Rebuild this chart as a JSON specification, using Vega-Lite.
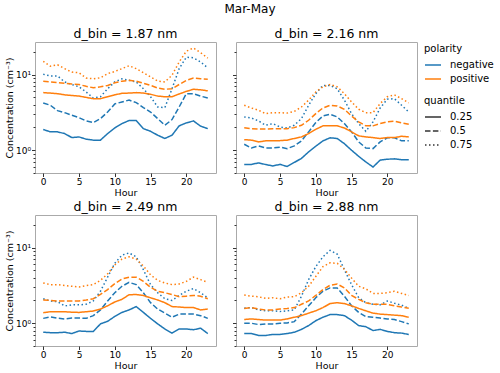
{
"$schema": "https://vega.github.io/schema/vega-lite/v6.json",
"padding": {"left": 3, "top": 3, "right": 3, "bottom": 2},
"title": {"text": "Mar-May", "fontSize": 12, "fontWeight": "normal", "anchor": "middle", "offset": 11, "color": "#000"},
"config": {
 "font": "DejaVu Sans",
 "view": {"stroke": "#aaaaaa", "strokeWidth": 1},
 "axis": {"grid": false, "domain": false, "labelFontSize": 9, "titleFontSize": 9.5, "titleFontWeight": "normal", "labelColor": "#000", "titleColor": "#000", "tickColor": "#333", "labelPadding": 1, "titlePadding": 1},
 "title": {"fontSize": 12.5, "fontWeight": "normal", "color": "#000", "offset": 2},
 "legend": {"symbolType": "stroke", "symbolSize": 256, "symbolStrokeWidth": 1.5, "labelFontSize": 10, "titleFontSize": 10, "titleFontWeight": "normal", "titleColor": "#000", "labelColor": "#000", "rowPadding": 0, "titlePadding": 2, "symbolStrokeColor": "#333", "labelOffset": 8, "padding": 2, "offset": 4}
},
"spacing": {"row": 2, "column": 14},
"columns": 2,
"resolve": {"scale": {"x": "shared", "y": "shared"}},
"data": {"values": [
{"d":"1.87","p":"negative","q":"0.25","h":0,"v":1.88},{"d":"1.87","p":"negative","q":"0.25","h":1,"v":1.75},{"d":"1.87","p":"negative","q":"0.25","h":2,"v":1.75},{"d":"1.87","p":"negative","q":"0.25","h":3,"v":1.66},{"d":"1.87","p":"negative","q":"0.25","h":4,"v":1.47},{"d":"1.87","p":"negative","q":"0.25","h":5,"v":1.5},{"d":"1.87","p":"negative","q":"0.25","h":6,"v":1.4},{"d":"1.87","p":"negative","q":"0.25","h":7,"v":1.36},{"d":"1.87","p":"negative","q":"0.25","h":8,"v":1.36},{"d":"1.87","p":"negative","q":"0.25","h":9,"v":1.66},{"d":"1.87","p":"negative","q":"0.25","h":10,"v":1.97},{"d":"1.87","p":"negative","q":"0.25","h":11,"v":2.25},{"d":"1.87","p":"negative","q":"0.25","h":12,"v":2.47},{"d":"1.87","p":"negative","q":"0.25","h":13,"v":2.47},{"d":"1.87","p":"negative","q":"0.25","h":14,"v":1.93},{"d":"1.87","p":"negative","q":"0.25","h":15,"v":1.78},{"d":"1.87","p":"negative","q":"0.25","h":16,"v":1.58},{"d":"1.87","p":"negative","q":"0.25","h":17,"v":1.43},{"d":"1.87","p":"negative","q":"0.25","h":18,"v":1.58},{"d":"1.87","p":"negative","q":"0.25","h":19,"v":2.1},{"d":"1.87","p":"negative","q":"0.25","h":20,"v":2.3},{"d":"1.87","p":"negative","q":"0.25","h":21,"v":2.44},{"d":"1.87","p":"negative","q":"0.25","h":22,"v":2.08},{"d":"1.87","p":"negative","q":"0.25","h":23,"v":1.93},
{"d":"1.87","p":"negative","q":"0.5","h":0,"v":4.22},{"d":"1.87","p":"negative","q":"0.5","h":1,"v":3.93},{"d":"1.87","p":"negative","q":"0.5","h":2,"v":3.34},{"d":"1.87","p":"negative","q":"0.5","h":3,"v":3.14},{"d":"1.87","p":"negative","q":"0.5","h":4,"v":2.9},{"d":"1.87","p":"negative","q":"0.5","h":5,"v":2.7},{"d":"1.87","p":"negative","q":"0.5","h":6,"v":2.44},{"d":"1.87","p":"negative","q":"0.5","h":7,"v":2.32},{"d":"1.87","p":"negative","q":"0.5","h":8,"v":2.62},{"d":"1.87","p":"negative","q":"0.5","h":9,"v":3.2},{"d":"1.87","p":"negative","q":"0.5","h":10,"v":4.1},{"d":"1.87","p":"negative","q":"0.5","h":11,"v":4.35},{"d":"1.87","p":"negative","q":"0.5","h":12,"v":4.6},{"d":"1.87","p":"negative","q":"0.5","h":13,"v":4.27},{"d":"1.87","p":"negative","q":"0.5","h":14,"v":3.66},{"d":"1.87","p":"negative","q":"0.5","h":15,"v":3.2},{"d":"1.87","p":"negative","q":"0.5","h":16,"v":2.62},{"d":"1.87","p":"negative","q":"0.5","h":17,"v":2.14},{"d":"1.87","p":"negative","q":"0.5","h":18,"v":2.54},{"d":"1.87","p":"negative","q":"0.5","h":19,"v":3.73},{"d":"1.87","p":"negative","q":"0.5","h":20,"v":5.6},{"d":"1.87","p":"negative","q":"0.5","h":21,"v":5.6},{"d":"1.87","p":"negative","q":"0.5","h":22,"v":5.2},{"d":"1.87","p":"negative","q":"0.5","h":23,"v":4.9},
{"d":"1.87","p":"negative","q":"0.75","h":0,"v":10.1},{"d":"1.87","p":"negative","q":"0.75","h":1,"v":9.6},{"d":"1.87","p":"negative","q":"0.75","h":2,"v":9.6},{"d":"1.87","p":"negative","q":"0.75","h":3,"v":8.0},{"d":"1.87","p":"negative","q":"0.75","h":4,"v":7.4},{"d":"1.87","p":"negative","q":"0.75","h":5,"v":6.9},{"d":"1.87","p":"negative","q":"0.75","h":6,"v":5.9},{"d":"1.87","p":"negative","q":"0.75","h":7,"v":4.9},{"d":"1.87","p":"negative","q":"0.75","h":8,"v":5.1},{"d":"1.87","p":"negative","q":"0.75","h":9,"v":6.5},{"d":"1.87","p":"negative","q":"0.75","h":10,"v":8.0},{"d":"1.87","p":"negative","q":"0.75","h":11,"v":8.8},{"d":"1.87","p":"negative","q":"0.75","h":12,"v":8.4},{"d":"1.87","p":"negative","q":"0.75","h":13,"v":8.0},{"d":"1.87","p":"negative","q":"0.75","h":14,"v":6.5},{"d":"1.87","p":"negative","q":"0.75","h":15,"v":5.1},{"d":"1.87","p":"negative","q":"0.75","h":16,"v":3.73},{"d":"1.87","p":"negative","q":"0.75","h":17,"v":3.66},{"d":"1.87","p":"negative","q":"0.75","h":18,"v":6.5},{"d":"1.87","p":"negative","q":"0.75","h":19,"v":12},{"d":"1.87","p":"negative","q":"0.75","h":20,"v":17},{"d":"1.87","p":"negative","q":"0.75","h":21,"v":16.7},{"d":"1.87","p":"negative","q":"0.75","h":22,"v":14.7},{"d":"1.87","p":"negative","q":"0.75","h":23,"v":12.3},
{"d":"1.87","p":"positive","q":"0.25","h":0,"v":5.78},{"d":"1.87","p":"positive","q":"0.25","h":1,"v":5.7},{"d":"1.87","p":"positive","q":"0.25","h":2,"v":5.6},{"d":"1.87","p":"positive","q":"0.25","h":3,"v":5.4},{"d":"1.87","p":"positive","q":"0.25","h":4,"v":5.3},{"d":"1.87","p":"positive","q":"0.25","h":5,"v":5.2},{"d":"1.87","p":"positive","q":"0.25","h":6,"v":5.0},{"d":"1.87","p":"positive","q":"0.25","h":7,"v":4.8},{"d":"1.87","p":"positive","q":"0.25","h":8,"v":4.8},{"d":"1.87","p":"positive","q":"0.25","h":9,"v":5.1},{"d":"1.87","p":"positive","q":"0.25","h":10,"v":5.4},{"d":"1.87","p":"positive","q":"0.25","h":11,"v":5.65},{"d":"1.87","p":"positive","q":"0.25","h":12,"v":5.7},{"d":"1.87","p":"positive","q":"0.25","h":13,"v":5.78},{"d":"1.87","p":"positive","q":"0.25","h":14,"v":5.7},{"d":"1.87","p":"positive","q":"0.25","h":15,"v":5.5},{"d":"1.87","p":"positive","q":"0.25","h":16,"v":5.2},{"d":"1.87","p":"positive","q":"0.25","h":17,"v":5.1},{"d":"1.87","p":"positive","q":"0.25","h":18,"v":5.1},{"d":"1.87","p":"positive","q":"0.25","h":19,"v":5.55},{"d":"1.87","p":"positive","q":"0.25","h":20,"v":6.0},{"d":"1.87","p":"positive","q":"0.25","h":21,"v":6.4},{"d":"1.87","p":"positive","q":"0.25","h":22,"v":6.3},{"d":"1.87","p":"positive","q":"0.25","h":23,"v":6.1},
{"d":"1.87","p":"positive","q":"0.5","h":0,"v":8.2},{"d":"1.87","p":"positive","q":"0.5","h":1,"v":8.0},{"d":"1.87","p":"positive","q":"0.5","h":2,"v":7.85},{"d":"1.87","p":"positive","q":"0.5","h":3,"v":7.7},{"d":"1.87","p":"positive","q":"0.5","h":4,"v":7.5},{"d":"1.87","p":"positive","q":"0.5","h":5,"v":7.4},{"d":"1.87","p":"positive","q":"0.5","h":6,"v":7.0},{"d":"1.87","p":"positive","q":"0.5","h":7,"v":6.7},{"d":"1.87","p":"positive","q":"0.5","h":8,"v":6.9},{"d":"1.87","p":"positive","q":"0.5","h":9,"v":7.2},{"d":"1.87","p":"positive","q":"0.5","h":10,"v":7.8},{"d":"1.87","p":"positive","q":"0.5","h":11,"v":8.2},{"d":"1.87","p":"positive","q":"0.5","h":12,"v":8.4},{"d":"1.87","p":"positive","q":"0.5","h":13,"v":8.2},{"d":"1.87","p":"positive","q":"0.5","h":14,"v":7.7},{"d":"1.87","p":"positive","q":"0.5","h":15,"v":7.2},{"d":"1.87","p":"positive","q":"0.5","h":16,"v":6.65},{"d":"1.87","p":"positive","q":"0.5","h":17,"v":6.4},{"d":"1.87","p":"positive","q":"0.5","h":18,"v":6.5},{"d":"1.87","p":"positive","q":"0.5","h":19,"v":7.4},{"d":"1.87","p":"positive","q":"0.5","h":20,"v":8.4},{"d":"1.87","p":"positive","q":"0.5","h":21,"v":9.0},{"d":"1.87","p":"positive","q":"0.5","h":22,"v":8.8},{"d":"1.87","p":"positive","q":"0.5","h":23,"v":8.7},
{"d":"1.87","p":"positive","q":"0.75","h":0,"v":15},{"d":"1.87","p":"positive","q":"0.75","h":1,"v":12.9},{"d":"1.87","p":"positive","q":"0.75","h":2,"v":13.5},{"d":"1.87","p":"positive","q":"0.75","h":3,"v":12},{"d":"1.87","p":"positive","q":"0.75","h":4,"v":10.8},{"d":"1.87","p":"positive","q":"0.75","h":5,"v":10.6},{"d":"1.87","p":"positive","q":"0.75","h":6,"v":9},{"d":"1.87","p":"positive","q":"0.75","h":7,"v":8.8},{"d":"1.87","p":"positive","q":"0.75","h":8,"v":9.1},{"d":"1.87","p":"positive","q":"0.75","h":9,"v":10.3},{"d":"1.87","p":"positive","q":"0.75","h":10,"v":11},{"d":"1.87","p":"positive","q":"0.75","h":11,"v":12},{"d":"1.87","p":"positive","q":"0.75","h":12,"v":13.1},{"d":"1.87","p":"positive","q":"0.75","h":13,"v":12},{"d":"1.87","p":"positive","q":"0.75","h":14,"v":10.6},{"d":"1.87","p":"positive","q":"0.75","h":15,"v":9.3},{"d":"1.87","p":"positive","q":"0.75","h":16,"v":8.2},{"d":"1.87","p":"positive","q":"0.75","h":17,"v":8.0},{"d":"1.87","p":"positive","q":"0.75","h":18,"v":9.8},{"d":"1.87","p":"positive","q":"0.75","h":19,"v":14.7},{"d":"1.87","p":"positive","q":"0.75","h":20,"v":20.4},{"d":"1.87","p":"positive","q":"0.75","h":21,"v":22.5},{"d":"1.87","p":"positive","q":"0.75","h":22,"v":19.5},{"d":"1.87","p":"positive","q":"0.75","h":23,"v":16.5},
{"d":"2.16","p":"negative","q":"0.25","h":0,"v":0.647},{"d":"2.16","p":"negative","q":"0.25","h":1,"v":0.65},{"d":"2.16","p":"negative","q":"0.25","h":2,"v":0.68},{"d":"2.16","p":"negative","q":"0.25","h":3,"v":0.647},{"d":"2.16","p":"negative","q":"0.25","h":4,"v":0.62},{"d":"2.16","p":"negative","q":"0.25","h":5,"v":0.65},{"d":"2.16","p":"negative","q":"0.25","h":6,"v":0.61},{"d":"2.16","p":"negative","q":"0.25","h":7,"v":0.69},{"d":"2.16","p":"negative","q":"0.25","h":8,"v":0.78},{"d":"2.16","p":"negative","q":"0.25","h":9,"v":0.95},{"d":"2.16","p":"negative","q":"0.25","h":10,"v":1.13},{"d":"2.16","p":"negative","q":"0.25","h":11,"v":1.33},{"d":"2.16","p":"negative","q":"0.25","h":12,"v":1.46},{"d":"2.16","p":"negative","q":"0.25","h":13,"v":1.43},{"d":"2.16","p":"negative","q":"0.25","h":14,"v":1.22},{"d":"2.16","p":"negative","q":"0.25","h":15,"v":1.0},{"d":"2.16","p":"negative","q":"0.25","h":16,"v":0.83},{"d":"2.16","p":"negative","q":"0.25","h":17,"v":0.7},{"d":"2.16","p":"negative","q":"0.25","h":18,"v":0.6},{"d":"2.16","p":"negative","q":"0.25","h":19,"v":0.74},{"d":"2.16","p":"negative","q":"0.25","h":20,"v":0.76},{"d":"2.16","p":"negative","q":"0.25","h":21,"v":0.77},{"d":"2.16","p":"negative","q":"0.25","h":22,"v":0.75},{"d":"2.16","p":"negative","q":"0.25","h":23,"v":0.75},
{"d":"2.16","p":"negative","q":"0.5","h":0,"v":1.2},{"d":"2.16","p":"negative","q":"0.5","h":1,"v":1.07},{"d":"2.16","p":"negative","q":"0.5","h":2,"v":1.14},{"d":"2.16","p":"negative","q":"0.5","h":3,"v":1.07},{"d":"2.16","p":"negative","q":"0.5","h":4,"v":1.07},{"d":"2.16","p":"negative","q":"0.5","h":5,"v":1.1},{"d":"2.16","p":"negative","q":"0.5","h":6,"v":1.05},{"d":"2.16","p":"negative","q":"0.5","h":7,"v":1.14},{"d":"2.16","p":"negative","q":"0.5","h":8,"v":1.33},{"d":"2.16","p":"negative","q":"0.5","h":9,"v":1.75},{"d":"2.16","p":"negative","q":"0.5","h":10,"v":2.32},{"d":"2.16","p":"negative","q":"0.5","h":11,"v":2.84},{"d":"2.16","p":"negative","q":"0.5","h":12,"v":2.99},{"d":"2.16","p":"negative","q":"0.5","h":13,"v":2.76},{"d":"2.16","p":"negative","q":"0.5","h":14,"v":2.25},{"d":"2.16","p":"negative","q":"0.5","h":15,"v":1.75},{"d":"2.16","p":"negative","q":"0.5","h":16,"v":1.29},{"d":"2.16","p":"negative","q":"0.5","h":17,"v":1.07},{"d":"2.16","p":"negative","q":"0.5","h":18,"v":1.05},{"d":"2.16","p":"negative","q":"0.5","h":19,"v":1.29},{"d":"2.16","p":"negative","q":"0.5","h":20,"v":1.46},{"d":"2.16","p":"negative","q":"0.5","h":21,"v":1.46},{"d":"2.16","p":"negative","q":"0.5","h":22,"v":1.33},{"d":"2.16","p":"negative","q":"0.5","h":23,"v":1.33},
{"d":"2.16","p":"negative","q":"0.75","h":0,"v":2.76},{"d":"2.16","p":"negative","q":"0.75","h":1,"v":2.67},{"d":"2.16","p":"negative","q":"0.75","h":2,"v":2.44},{"d":"2.16","p":"negative","q":"0.75","h":3,"v":2.14},{"d":"2.16","p":"negative","q":"0.75","h":4,"v":2.25},{"d":"2.16","p":"negative","q":"0.75","h":5,"v":2.03},{"d":"2.16","p":"negative","q":"0.75","h":6,"v":1.97},{"d":"2.16","p":"negative","q":"0.75","h":7,"v":2.14},{"d":"2.16","p":"negative","q":"0.75","h":8,"v":2.62},{"d":"2.16","p":"negative","q":"0.75","h":9,"v":3.93},{"d":"2.16","p":"negative","q":"0.75","h":10,"v":5.6},{"d":"2.16","p":"negative","q":"0.75","h":11,"v":7.2},{"d":"2.16","p":"negative","q":"0.75","h":12,"v":7.2},{"d":"2.16","p":"negative","q":"0.75","h":13,"v":6.5},{"d":"2.16","p":"negative","q":"0.75","h":14,"v":4.6},{"d":"2.16","p":"negative","q":"0.75","h":15,"v":3.05},{"d":"2.16","p":"negative","q":"0.75","h":16,"v":2.25},{"d":"2.16","p":"negative","q":"0.75","h":17,"v":1.78},{"d":"2.16","p":"negative","q":"0.75","h":18,"v":2.37},{"d":"2.16","p":"negative","q":"0.75","h":19,"v":3.62},{"d":"2.16","p":"negative","q":"0.75","h":20,"v":4.73},{"d":"2.16","p":"negative","q":"0.75","h":21,"v":4.8},{"d":"2.16","p":"negative","q":"0.75","h":22,"v":3.93},{"d":"2.16","p":"negative","q":"0.75","h":23,"v":3.2},
{"d":"2.16","p":"positive","q":"0.25","h":0,"v":1.38},{"d":"2.16","p":"positive","q":"0.25","h":1,"v":1.36},{"d":"2.16","p":"positive","q":"0.25","h":2,"v":1.29},{"d":"2.16","p":"positive","q":"0.25","h":3,"v":1.33},{"d":"2.16","p":"positive","q":"0.25","h":4,"v":1.33},{"d":"2.16","p":"positive","q":"0.25","h":5,"v":1.34},{"d":"2.16","p":"positive","q":"0.25","h":6,"v":1.36},{"d":"2.16","p":"positive","q":"0.25","h":7,"v":1.43},{"d":"2.16","p":"positive","q":"0.25","h":8,"v":1.5},{"d":"2.16","p":"positive","q":"0.25","h":9,"v":1.66},{"d":"2.16","p":"positive","q":"0.25","h":10,"v":1.89},{"d":"2.16","p":"positive","q":"0.25","h":11,"v":2.1},{"d":"2.16","p":"positive","q":"0.25","h":12,"v":2.1},{"d":"2.16","p":"positive","q":"0.25","h":13,"v":2.1},{"d":"2.16","p":"positive","q":"0.25","h":14,"v":1.97},{"d":"2.16","p":"positive","q":"0.25","h":15,"v":1.75},{"d":"2.16","p":"positive","q":"0.25","h":16,"v":1.55},{"d":"2.16","p":"positive","q":"0.25","h":17,"v":1.5},{"d":"2.16","p":"positive","q":"0.25","h":18,"v":1.47},{"d":"2.16","p":"positive","q":"0.25","h":19,"v":1.43},{"d":"2.16","p":"positive","q":"0.25","h":20,"v":1.47},{"d":"2.16","p":"positive","q":"0.25","h":21,"v":1.47},{"d":"2.16","p":"positive","q":"0.25","h":22,"v":1.53},{"d":"2.16","p":"positive","q":"0.25","h":23,"v":1.5},
{"d":"2.16","p":"positive","q":"0.5","h":0,"v":1.99},{"d":"2.16","p":"positive","q":"0.5","h":1,"v":1.93},{"d":"2.16","p":"positive","q":"0.5","h":2,"v":1.91},{"d":"2.16","p":"positive","q":"0.5","h":3,"v":1.91},{"d":"2.16","p":"positive","q":"0.5","h":4,"v":1.93},{"d":"2.16","p":"positive","q":"0.5","h":5,"v":1.93},{"d":"2.16","p":"positive","q":"0.5","h":6,"v":1.93},{"d":"2.16","p":"positive","q":"0.5","h":7,"v":1.99},{"d":"2.16","p":"positive","q":"0.5","h":8,"v":2.14},{"d":"2.16","p":"positive","q":"0.5","h":9,"v":2.49},{"d":"2.16","p":"positive","q":"0.5","h":10,"v":3.05},{"d":"2.16","p":"positive","q":"0.5","h":11,"v":3.62},{"d":"2.16","p":"positive","q":"0.5","h":12,"v":3.93},{"d":"2.16","p":"positive","q":"0.5","h":13,"v":3.85},{"d":"2.16","p":"positive","q":"0.5","h":14,"v":3.48},{"d":"2.16","p":"positive","q":"0.5","h":15,"v":2.84},{"d":"2.16","p":"positive","q":"0.5","h":16,"v":2.37},{"d":"2.16","p":"positive","q":"0.5","h":17,"v":2.1},{"d":"2.16","p":"positive","q":"0.5","h":18,"v":2.1},{"d":"2.16","p":"positive","q":"0.5","h":19,"v":2.25},{"d":"2.16","p":"positive","q":"0.5","h":20,"v":2.37},{"d":"2.16","p":"positive","q":"0.5","h":21,"v":2.42},{"d":"2.16","p":"positive","q":"0.5","h":22,"v":2.3},{"d":"2.16","p":"positive","q":"0.5","h":23,"v":2.2},
{"d":"2.16","p":"positive","q":"0.75","h":0,"v":3.93},{"d":"2.16","p":"positive","q":"0.75","h":1,"v":3.62},{"d":"2.16","p":"positive","q":"0.75","h":2,"v":3.38},{"d":"2.16","p":"positive","q":"0.75","h":3,"v":3.05},{"d":"2.16","p":"positive","q":"0.75","h":4,"v":3.14},{"d":"2.16","p":"positive","q":"0.75","h":5,"v":3.14},{"d":"2.16","p":"positive","q":"0.75","h":6,"v":3.1},{"d":"2.16","p":"positive","q":"0.75","h":7,"v":3.27},{"d":"2.16","p":"positive","q":"0.75","h":8,"v":3.73},{"d":"2.16","p":"positive","q":"0.75","h":9,"v":4.6},{"d":"2.16","p":"positive","q":"0.75","h":10,"v":5.9},{"d":"2.16","p":"positive","q":"0.75","h":11,"v":6.9},{"d":"2.16","p":"positive","q":"0.75","h":12,"v":7.4},{"d":"2.16","p":"positive","q":"0.75","h":13,"v":6.9},{"d":"2.16","p":"positive","q":"0.75","h":14,"v":5.6},{"d":"2.16","p":"positive","q":"0.75","h":15,"v":4.35},{"d":"2.16","p":"positive","q":"0.75","h":16,"v":3.48},{"d":"2.16","p":"positive","q":"0.75","h":17,"v":3.14},{"d":"2.16","p":"positive","q":"0.75","h":18,"v":3.14},{"d":"2.16","p":"positive","q":"0.75","h":19,"v":4.14},{"d":"2.16","p":"positive","q":"0.75","h":20,"v":5.1},{"d":"2.16","p":"positive","q":"0.75","h":21,"v":5.4},{"d":"2.16","p":"positive","q":"0.75","h":22,"v":4.8},{"d":"2.16","p":"positive","q":"0.75","h":23,"v":4.22},
{"d":"2.49","p":"negative","q":"0.25","h":0,"v":0.76},{"d":"2.49","p":"negative","q":"0.25","h":1,"v":0.75},{"d":"2.49","p":"negative","q":"0.25","h":2,"v":0.75},{"d":"2.49","p":"negative","q":"0.25","h":3,"v":0.76},{"d":"2.49","p":"negative","q":"0.25","h":4,"v":0.73},{"d":"2.49","p":"negative","q":"0.25","h":5,"v":0.79},{"d":"2.49","p":"negative","q":"0.25","h":6,"v":0.78},{"d":"2.49","p":"negative","q":"0.25","h":7,"v":0.78},{"d":"2.49","p":"negative","q":"0.25","h":8,"v":0.98},{"d":"2.49","p":"negative","q":"0.25","h":9,"v":1.06},{"d":"2.49","p":"negative","q":"0.25","h":10,"v":1.23},{"d":"2.49","p":"negative","q":"0.25","h":11,"v":1.39},{"d":"2.49","p":"negative","q":"0.25","h":12,"v":1.5},{"d":"2.49","p":"negative","q":"0.25","h":13,"v":1.66},{"d":"2.49","p":"negative","q":"0.25","h":14,"v":1.39},{"d":"2.49","p":"negative","q":"0.25","h":15,"v":1.16},{"d":"2.49","p":"negative","q":"0.25","h":16,"v":0.98},{"d":"2.49","p":"negative","q":"0.25","h":17,"v":0.84},{"d":"2.49","p":"negative","q":"0.25","h":18,"v":0.74},{"d":"2.49","p":"negative","q":"0.25","h":19,"v":0.84},{"d":"2.49","p":"negative","q":"0.25","h":20,"v":0.84},{"d":"2.49","p":"negative","q":"0.25","h":21,"v":0.82},{"d":"2.49","p":"negative","q":"0.25","h":22,"v":0.86},{"d":"2.49","p":"negative","q":"0.25","h":23,"v":0.73},
{"d":"2.49","p":"negative","q":"0.5","h":0,"v":1.16},{"d":"2.49","p":"negative","q":"0.5","h":1,"v":1.21},{"d":"2.49","p":"negative","q":"0.5","h":2,"v":1.17},{"d":"2.49","p":"negative","q":"0.5","h":3,"v":1.14},{"d":"2.49","p":"negative","q":"0.5","h":4,"v":1.17},{"d":"2.49","p":"negative","q":"0.5","h":5,"v":1.17},{"d":"2.49","p":"negative","q":"0.5","h":6,"v":1.16},{"d":"2.49","p":"negative","q":"0.5","h":7,"v":1.26},{"d":"2.49","p":"negative","q":"0.5","h":8,"v":1.5},{"d":"2.49","p":"negative","q":"0.5","h":9,"v":1.97},{"d":"2.49","p":"negative","q":"0.5","h":10,"v":2.53},{"d":"2.49","p":"negative","q":"0.5","h":11,"v":3.08},{"d":"2.49","p":"negative","q":"0.5","h":12,"v":3.47},{"d":"2.49","p":"negative","q":"0.5","h":13,"v":3.24},{"d":"2.49","p":"negative","q":"0.5","h":14,"v":2.53},{"d":"2.49","p":"negative","q":"0.5","h":15,"v":1.87},{"d":"2.49","p":"negative","q":"0.5","h":16,"v":1.54},{"d":"2.49","p":"negative","q":"0.5","h":17,"v":1.36},{"d":"2.49","p":"negative","q":"0.5","h":18,"v":1.2},{"d":"2.49","p":"negative","q":"0.5","h":19,"v":1.32},{"d":"2.49","p":"negative","q":"0.5","h":20,"v":1.32},{"d":"2.49","p":"negative","q":"0.5","h":21,"v":1.32},{"d":"2.49","p":"negative","q":"0.5","h":22,"v":1.26},{"d":"2.49","p":"negative","q":"0.5","h":23,"v":1.16},
{"d":"2.49","p":"negative","q":"0.75","h":0,"v":2.11},{"d":"2.49","p":"negative","q":"0.75","h":1,"v":1.97},{"d":"2.49","p":"negative","q":"0.75","h":2,"v":1.93},{"d":"2.49","p":"negative","q":"0.75","h":3,"v":1.69},{"d":"2.49","p":"negative","q":"0.75","h":4,"v":1.75},{"d":"2.49","p":"negative","q":"0.75","h":5,"v":1.75},{"d":"2.49","p":"negative","q":"0.75","h":6,"v":1.78},{"d":"2.49","p":"negative","q":"0.75","h":7,"v":1.97},{"d":"2.49","p":"negative","q":"0.75","h":8,"v":2.65},{"d":"2.49","p":"negative","q":"0.75","h":9,"v":4.07},{"d":"2.49","p":"negative","q":"0.75","h":10,"v":6.2},{"d":"2.49","p":"negative","q":"0.75","h":11,"v":7.95},{"d":"2.49","p":"negative","q":"0.75","h":12,"v":8.5},{"d":"2.49","p":"negative","q":"0.75","h":13,"v":7.55},{"d":"2.49","p":"negative","q":"0.75","h":14,"v":5.1},{"d":"2.49","p":"negative","q":"0.75","h":15,"v":3.24},{"d":"2.49","p":"negative","q":"0.75","h":16,"v":2.53},{"d":"2.49","p":"negative","q":"0.75","h":17,"v":2.11},{"d":"2.49","p":"negative","q":"0.75","h":18,"v":2.0},{"d":"2.49","p":"negative","q":"0.75","h":19,"v":2.33},{"d":"2.49","p":"negative","q":"0.75","h":20,"v":2.65},{"d":"2.49","p":"negative","q":"0.75","h":21,"v":2.88},{"d":"2.49","p":"negative","q":"0.75","h":22,"v":2.53},{"d":"2.49","p":"negative","q":"0.75","h":23,"v":2.17},
{"d":"2.49","p":"positive","q":"0.25","h":0,"v":1.38},{"d":"2.49","p":"positive","q":"0.25","h":1,"v":1.42},{"d":"2.49","p":"positive","q":"0.25","h":2,"v":1.42},{"d":"2.49","p":"positive","q":"0.25","h":3,"v":1.42},{"d":"2.49","p":"positive","q":"0.25","h":4,"v":1.4},{"d":"2.49","p":"positive","q":"0.25","h":5,"v":1.39},{"d":"2.49","p":"positive","q":"0.25","h":6,"v":1.42},{"d":"2.49","p":"positive","q":"0.25","h":7,"v":1.45},{"d":"2.49","p":"positive","q":"0.25","h":8,"v":1.54},{"d":"2.49","p":"positive","q":"0.25","h":9,"v":1.7},{"d":"2.49","p":"positive","q":"0.25","h":10,"v":1.91},{"d":"2.49","p":"positive","q":"0.25","h":11,"v":2.07},{"d":"2.49","p":"positive","q":"0.25","h":12,"v":2.38},{"d":"2.49","p":"positive","q":"0.25","h":13,"v":2.4},{"d":"2.49","p":"positive","q":"0.25","h":14,"v":2.33},{"d":"2.49","p":"positive","q":"0.25","h":15,"v":2.17},{"d":"2.49","p":"positive","q":"0.25","h":16,"v":2.03},{"d":"2.49","p":"positive","q":"0.25","h":17,"v":1.87},{"d":"2.49","p":"positive","q":"0.25","h":18,"v":1.66},{"d":"2.49","p":"positive","q":"0.25","h":19,"v":1.64},{"d":"2.49","p":"positive","q":"0.25","h":20,"v":1.61},{"d":"2.49","p":"positive","q":"0.25","h":21,"v":1.61},{"d":"2.49","p":"positive","q":"0.25","h":22,"v":1.5},{"d":"2.49","p":"positive","q":"0.25","h":23,"v":1.54},
{"d":"2.49","p":"positive","q":"0.5","h":0,"v":2.03},{"d":"2.49","p":"positive","q":"0.5","h":1,"v":2.0},{"d":"2.49","p":"positive","q":"0.5","h":2,"v":1.97},{"d":"2.49","p":"positive","q":"0.5","h":3,"v":1.97},{"d":"2.49","p":"positive","q":"0.5","h":4,"v":1.97},{"d":"2.49","p":"positive","q":"0.5","h":5,"v":1.97},{"d":"2.49","p":"positive","q":"0.5","h":6,"v":2.03},{"d":"2.49","p":"positive","q":"0.5","h":7,"v":2.11},{"d":"2.49","p":"positive","q":"0.5","h":8,"v":2.4},{"d":"2.49","p":"positive","q":"0.5","h":9,"v":2.79},{"d":"2.49","p":"positive","q":"0.5","h":10,"v":3.34},{"d":"2.49","p":"positive","q":"0.5","h":11,"v":3.84},{"d":"2.49","p":"positive","q":"0.5","h":12,"v":4.07},{"d":"2.49","p":"positive","q":"0.5","h":13,"v":4.07},{"d":"2.49","p":"positive","q":"0.5","h":14,"v":3.58},{"d":"2.49","p":"positive","q":"0.5","h":15,"v":2.99},{"d":"2.49","p":"positive","q":"0.5","h":16,"v":2.65},{"d":"2.49","p":"positive","q":"0.5","h":17,"v":2.53},{"d":"2.49","p":"positive","q":"0.5","h":18,"v":2.4},{"d":"2.49","p":"positive","q":"0.5","h":19,"v":2.24},{"d":"2.49","p":"positive","q":"0.5","h":20,"v":2.28},{"d":"2.49","p":"positive","q":"0.5","h":21,"v":2.33},{"d":"2.49","p":"positive","q":"0.5","h":22,"v":2.28},{"d":"2.49","p":"positive","q":"0.5","h":23,"v":2.11},
{"d":"2.49","p":"positive","q":"0.75","h":0,"v":3.41},{"d":"2.49","p":"positive","q":"0.75","h":1,"v":3.24},{"d":"2.49","p":"positive","q":"0.75","h":2,"v":3.24},{"d":"2.49","p":"positive","q":"0.75","h":3,"v":3.15},{"d":"2.49","p":"positive","q":"0.75","h":4,"v":3.08},{"d":"2.49","p":"positive","q":"0.75","h":5,"v":3.02},{"d":"2.49","p":"positive","q":"0.75","h":6,"v":3.15},{"d":"2.49","p":"positive","q":"0.75","h":7,"v":3.24},{"d":"2.49","p":"positive","q":"0.75","h":8,"v":3.69},{"d":"2.49","p":"positive","q":"0.75","h":9,"v":4.5},{"d":"2.49","p":"positive","q":"0.75","h":10,"v":5.9},{"d":"2.49","p":"positive","q":"0.75","h":11,"v":7.05},{"d":"2.49","p":"positive","q":"0.75","h":12,"v":7.55},{"d":"2.49","p":"positive","q":"0.75","h":13,"v":7.05},{"d":"2.49","p":"positive","q":"0.75","h":14,"v":5.7},{"d":"2.49","p":"positive","q":"0.75","h":15,"v":4.37},{"d":"2.49","p":"positive","q":"0.75","h":16,"v":3.69},{"d":"2.49","p":"positive","q":"0.75","h":17,"v":3.41},{"d":"2.49","p":"positive","q":"0.75","h":18,"v":3.24},{"d":"2.49","p":"positive","q":"0.75","h":19,"v":3.3},{"d":"2.49","p":"positive","q":"0.75","h":20,"v":3.58},{"d":"2.49","p":"positive","q":"0.75","h":21,"v":4.07},{"d":"2.49","p":"positive","q":"0.75","h":22,"v":3.77},{"d":"2.49","p":"positive","q":"0.75","h":23,"v":3.47},
{"d":"2.88","p":"negative","q":"0.25","h":0,"v":0.73},{"d":"2.88","p":"negative","q":"0.25","h":1,"v":0.73},{"d":"2.88","p":"negative","q":"0.25","h":2,"v":0.69},{"d":"2.88","p":"negative","q":"0.25","h":3,"v":0.69},{"d":"2.88","p":"negative","q":"0.25","h":4,"v":0.71},{"d":"2.88","p":"negative","q":"0.25","h":5,"v":0.71},{"d":"2.88","p":"negative","q":"0.25","h":6,"v":0.73},{"d":"2.88","p":"negative","q":"0.25","h":7,"v":0.76},{"d":"2.88","p":"negative","q":"0.25","h":8,"v":0.83},{"d":"2.88","p":"negative","q":"0.25","h":9,"v":0.93},{"d":"2.88","p":"negative","q":"0.25","h":10,"v":1.08},{"d":"2.88","p":"negative","q":"0.25","h":11,"v":1.2},{"d":"2.88","p":"negative","q":"0.25","h":12,"v":1.3},{"d":"2.88","p":"negative","q":"0.25","h":13,"v":1.3},{"d":"2.88","p":"negative","q":"0.25","h":14,"v":1.26},{"d":"2.88","p":"negative","q":"0.25","h":15,"v":1.1},{"d":"2.88","p":"negative","q":"0.25","h":16,"v":0.93},{"d":"2.88","p":"negative","q":"0.25","h":17,"v":0.9},{"d":"2.88","p":"negative","q":"0.25","h":18,"v":0.8},{"d":"2.88","p":"negative","q":"0.25","h":19,"v":0.83},{"d":"2.88","p":"negative","q":"0.25","h":20,"v":0.78},{"d":"2.88","p":"negative","q":"0.25","h":21,"v":0.75},{"d":"2.88","p":"negative","q":"0.25","h":22,"v":0.74},{"d":"2.88","p":"negative","q":"0.25","h":23,"v":0.71},
{"d":"2.88","p":"negative","q":"0.5","h":0,"v":1.0},{"d":"2.88","p":"negative","q":"0.5","h":1,"v":1.0},{"d":"2.88","p":"negative","q":"0.5","h":2,"v":0.96},{"d":"2.88","p":"negative","q":"0.5","h":3,"v":0.98},{"d":"2.88","p":"negative","q":"0.5","h":4,"v":0.98},{"d":"2.88","p":"negative","q":"0.5","h":5,"v":1.0},{"d":"2.88","p":"negative","q":"0.5","h":6,"v":1.01},{"d":"2.88","p":"negative","q":"0.5","h":7,"v":1.05},{"d":"2.88","p":"negative","q":"0.5","h":8,"v":1.32},{"d":"2.88","p":"negative","q":"0.5","h":9,"v":1.7},{"d":"2.88","p":"negative","q":"0.5","h":10,"v":2.17},{"d":"2.88","p":"negative","q":"0.5","h":11,"v":2.65},{"d":"2.88","p":"negative","q":"0.5","h":12,"v":2.93},{"d":"2.88","p":"negative","q":"0.5","h":13,"v":2.93},{"d":"2.88","p":"negative","q":"0.5","h":14,"v":2.28},{"d":"2.88","p":"negative","q":"0.5","h":15,"v":1.7},{"d":"2.88","p":"negative","q":"0.5","h":16,"v":1.39},{"d":"2.88","p":"negative","q":"0.5","h":17,"v":1.22},{"d":"2.88","p":"negative","q":"0.5","h":18,"v":1.2},{"d":"2.88","p":"negative","q":"0.5","h":19,"v":1.17},{"d":"2.88","p":"negative","q":"0.5","h":20,"v":1.14},{"d":"2.88","p":"negative","q":"0.5","h":21,"v":1.12},{"d":"2.88","p":"negative","q":"0.5","h":22,"v":1.05},{"d":"2.88","p":"negative","q":"0.5","h":23,"v":0.98},
{"d":"2.88","p":"negative","q":"0.75","h":0,"v":1.58},{"d":"2.88","p":"negative","q":"0.75","h":1,"v":1.61},{"d":"2.88","p":"negative","q":"0.75","h":2,"v":1.5},{"d":"2.88","p":"negative","q":"0.75","h":3,"v":1.46},{"d":"2.88","p":"negative","q":"0.75","h":4,"v":1.46},{"d":"2.88","p":"negative","q":"0.75","h":5,"v":1.43},{"d":"2.88","p":"negative","q":"0.75","h":6,"v":1.46},{"d":"2.88","p":"negative","q":"0.75","h":7,"v":1.5},{"d":"2.88","p":"negative","q":"0.75","h":8,"v":2.28},{"d":"2.88","p":"negative","q":"0.75","h":9,"v":3.77},{"d":"2.88","p":"negative","q":"0.75","h":10,"v":5.6},{"d":"2.88","p":"negative","q":"0.75","h":11,"v":7.55},{"d":"2.88","p":"negative","q":"0.75","h":12,"v":9.2},{"d":"2.88","p":"negative","q":"0.75","h":13,"v":8.2},{"d":"2.88","p":"negative","q":"0.75","h":14,"v":5.1},{"d":"2.88","p":"negative","q":"0.75","h":15,"v":3.24},{"d":"2.88","p":"negative","q":"0.75","h":16,"v":2.17},{"d":"2.88","p":"negative","q":"0.75","h":17,"v":1.87},{"d":"2.88","p":"negative","q":"0.75","h":18,"v":1.78},{"d":"2.88","p":"negative","q":"0.75","h":19,"v":1.75},{"d":"2.88","p":"negative","q":"0.75","h":20,"v":1.97},{"d":"2.88","p":"negative","q":"0.75","h":21,"v":1.84},{"d":"2.88","p":"negative","q":"0.75","h":22,"v":1.73},{"d":"2.88","p":"negative","q":"0.75","h":23,"v":1.58},
{"d":"2.88","p":"positive","q":"0.25","h":0,"v":1.12},{"d":"2.88","p":"positive","q":"0.25","h":1,"v":1.14},{"d":"2.88","p":"positive","q":"0.25","h":2,"v":1.12},{"d":"2.88","p":"positive","q":"0.25","h":3,"v":1.1},{"d":"2.88","p":"positive","q":"0.25","h":4,"v":1.1},{"d":"2.88","p":"positive","q":"0.25","h":5,"v":1.1},{"d":"2.88","p":"positive","q":"0.25","h":6,"v":1.14},{"d":"2.88","p":"positive","q":"0.25","h":7,"v":1.2},{"d":"2.88","p":"positive","q":"0.25","h":8,"v":1.26},{"d":"2.88","p":"positive","q":"0.25","h":9,"v":1.36},{"d":"2.88","p":"positive","q":"0.25","h":10,"v":1.46},{"d":"2.88","p":"positive","q":"0.25","h":11,"v":1.61},{"d":"2.88","p":"positive","q":"0.25","h":12,"v":1.82},{"d":"2.88","p":"positive","q":"0.25","h":13,"v":1.87},{"d":"2.88","p":"positive","q":"0.25","h":14,"v":1.82},{"d":"2.88","p":"positive","q":"0.25","h":15,"v":1.7},{"d":"2.88","p":"positive","q":"0.25","h":16,"v":1.57},{"d":"2.88","p":"positive","q":"0.25","h":17,"v":1.46},{"d":"2.88","p":"positive","q":"0.25","h":18,"v":1.36},{"d":"2.88","p":"positive","q":"0.25","h":19,"v":1.32},{"d":"2.88","p":"positive","q":"0.25","h":20,"v":1.3},{"d":"2.88","p":"positive","q":"0.25","h":21,"v":1.28},{"d":"2.88","p":"positive","q":"0.25","h":22,"v":1.26},{"d":"2.88","p":"positive","q":"0.25","h":23,"v":1.2},
{"d":"2.88","p":"positive","q":"0.5","h":0,"v":1.57},{"d":"2.88","p":"positive","q":"0.5","h":1,"v":1.61},{"d":"2.88","p":"positive","q":"0.5","h":2,"v":1.54},{"d":"2.88","p":"positive","q":"0.5","h":3,"v":1.5},{"d":"2.88","p":"positive","q":"0.5","h":4,"v":1.5},{"d":"2.88","p":"positive","q":"0.5","h":5,"v":1.54},{"d":"2.88","p":"positive","q":"0.5","h":6,"v":1.57},{"d":"2.88","p":"positive","q":"0.5","h":7,"v":1.61},{"d":"2.88","p":"positive","q":"0.5","h":8,"v":1.78},{"d":"2.88","p":"positive","q":"0.5","h":9,"v":1.97},{"d":"2.88","p":"positive","q":"0.5","h":10,"v":2.33},{"d":"2.88","p":"positive","q":"0.5","h":11,"v":2.79},{"d":"2.88","p":"positive","q":"0.5","h":12,"v":3.18},{"d":"2.88","p":"positive","q":"0.5","h":13,"v":3.3},{"d":"2.88","p":"positive","q":"0.5","h":14,"v":2.93},{"d":"2.88","p":"positive","q":"0.5","h":15,"v":2.33},{"d":"2.88","p":"positive","q":"0.5","h":16,"v":2.07},{"d":"2.88","p":"positive","q":"0.5","h":17,"v":1.87},{"d":"2.88","p":"positive","q":"0.5","h":18,"v":1.78},{"d":"2.88","p":"positive","q":"0.5","h":19,"v":1.78},{"d":"2.88","p":"positive","q":"0.5","h":20,"v":1.78},{"d":"2.88","p":"positive","q":"0.5","h":21,"v":1.7},{"d":"2.88","p":"positive","q":"0.5","h":22,"v":1.64},{"d":"2.88","p":"positive","q":"0.5","h":23,"v":1.58},
{"d":"2.88","p":"positive","q":"0.75","h":0,"v":2.36},{"d":"2.88","p":"positive","q":"0.75","h":1,"v":2.28},{"d":"2.88","p":"positive","q":"0.75","h":2,"v":2.24},{"d":"2.88","p":"positive","q":"0.75","h":3,"v":2.13},{"d":"2.88","p":"positive","q":"0.75","h":4,"v":2.17},{"d":"2.88","p":"positive","q":"0.75","h":5,"v":2.11},{"d":"2.88","p":"positive","q":"0.75","h":6,"v":2.22},{"d":"2.88","p":"positive","q":"0.75","h":7,"v":2.24},{"d":"2.88","p":"positive","q":"0.75","h":8,"v":2.53},{"d":"2.88","p":"positive","q":"0.75","h":9,"v":3.08},{"d":"2.88","p":"positive","q":"0.75","h":10,"v":4.15},{"d":"2.88","p":"positive","q":"0.75","h":11,"v":5.6},{"d":"2.88","p":"positive","q":"0.75","h":12,"v":6.3},{"d":"2.88","p":"positive","q":"0.75","h":13,"v":6.2},{"d":"2.88","p":"positive","q":"0.75","h":14,"v":5.18},{"d":"2.88","p":"positive","q":"0.75","h":15,"v":3.96},{"d":"2.88","p":"positive","q":"0.75","h":16,"v":3.08},{"d":"2.88","p":"positive","q":"0.75","h":17,"v":2.85},{"d":"2.88","p":"positive","q":"0.75","h":18,"v":2.48},{"d":"2.88","p":"positive","q":"0.75","h":19,"v":2.48},{"d":"2.88","p":"positive","q":"0.75","h":20,"v":2.53},{"d":"2.88","p":"positive","q":"0.75","h":21,"v":2.65},{"d":"2.88","p":"positive","q":"0.75","h":22,"v":2.48},{"d":"2.88","p":"positive","q":"0.75","h":23,"v":2.33}
]},
"concat": [
 {"width": 181, "height": 131, "title": "d_bin  =  1.87 nm",
  "transform": [{"filter": "datum.d == '1.87'"}],
  "mark": {"type": "line", "strokeWidth": 1.5},
  "encoding": {
   "x": {"field": "h", "type": "quantitative", "scale": {"domain": [-1.15, 24.15], "nice": false, "zero": false}, "axis": {"values": [0, 5, 10, 15, 20], "title": "Hour", "tickSize": 3.5}},
   "y": {"field": "v", "type": "quantitative", "scale": {"type": "log", "domain": [0.5, 27], "nice": false}, "axis": {"values": [0.5,0.6,0.7,0.8,0.9,1,2,3,4,5,6,7,8,9,10,20], "labelExpr": "datum.value == 1 ? '10⁰' : datum.value == 10 ? '10¹' : ''", "tickSize": {"condition": {"test": "datum.value == 1 || datum.value == 10", "value": 3.5}, "value": 2}, "title": "Concentration (cm⁻³)"}},
   "color": {"field": "p", "type": "nominal", "scale": {"domain": ["negative", "positive"], "range": ["#1f77b4", "#ff7f0e"]}, "legend": {"title": "polarity"}},
   "strokeDash": {"field": "q", "type": "nominal", "scale": {"domain": ["0.25", "0.5", "0.75"], "range": [[1, 0], [5.5, 2.4], [1.5, 2.5]]}, "legend": {"title": "quantile"}}
  }},
 {"width": 181, "height": 131, "title": "d_bin  =  2.16 nm",
  "transform": [{"filter": "datum.d == '2.16'"}],
  "mark": {"type": "line", "strokeWidth": 1.5},
  "encoding": {
   "x": {"field": "h", "type": "quantitative", "scale": {"domain": [-1.15, 24.15], "nice": false, "zero": false}, "axis": {"values": [0, 5, 10, 15, 20], "title": "Hour", "tickSize": 3.5}},
   "y": {"field": "v", "type": "quantitative", "scale": {"type": "log", "domain": [0.5, 27], "nice": false}, "axis": {"values": [0.5,0.6,0.7,0.8,0.9,1,2,3,4,5,6,7,8,9,10,20], "labels": false, "tickSize": {"condition": {"test": "datum.value == 1 || datum.value == 10", "value": 3.5}, "value": 2}, "title": null}},
   "color": {"field": "p", "type": "nominal", "scale": {"domain": ["negative", "positive"], "range": ["#1f77b4", "#ff7f0e"]}, "legend": {"title": "polarity"}},
   "strokeDash": {"field": "q", "type": "nominal", "scale": {"domain": ["0.25", "0.5", "0.75"], "range": [[1, 0], [5.5, 2.4], [1.5, 2.5]]}, "legend": {"title": "quantile"}}
  }},
 {"width": 181, "height": 131, "title": "d_bin  =  2.49 nm",
  "transform": [{"filter": "datum.d == '2.49'"}],
  "mark": {"type": "line", "strokeWidth": 1.5},
  "encoding": {
   "x": {"field": "h", "type": "quantitative", "scale": {"domain": [-1.15, 24.15], "nice": false, "zero": false}, "axis": {"values": [0, 5, 10, 15, 20], "title": "Hour", "tickSize": 3.5}},
   "y": {"field": "v", "type": "quantitative", "scale": {"type": "log", "domain": [0.5, 27], "nice": false}, "axis": {"values": [0.5,0.6,0.7,0.8,0.9,1,2,3,4,5,6,7,8,9,10,20], "labelExpr": "datum.value == 1 ? '10⁰' : datum.value == 10 ? '10¹' : ''", "tickSize": {"condition": {"test": "datum.value == 1 || datum.value == 10", "value": 3.5}, "value": 2}, "title": "Concentration (cm⁻³)"}},
   "color": {"field": "p", "type": "nominal", "scale": {"domain": ["negative", "positive"], "range": ["#1f77b4", "#ff7f0e"]}, "legend": {"title": "polarity"}},
   "strokeDash": {"field": "q", "type": "nominal", "scale": {"domain": ["0.25", "0.5", "0.75"], "range": [[1, 0], [5.5, 2.4], [1.5, 2.5]]}, "legend": {"title": "quantile"}}
  }},
 {"width": 181, "height": 131, "title": "d_bin  =  2.88 nm",
  "transform": [{"filter": "datum.d == '2.88'"}],
  "mark": {"type": "line", "strokeWidth": 1.5},
  "encoding": {
   "x": {"field": "h", "type": "quantitative", "scale": {"domain": [-1.15, 24.15], "nice": false, "zero": false}, "axis": {"values": [0, 5, 10, 15, 20], "title": "Hour", "tickSize": 3.5}},
   "y": {"field": "v", "type": "quantitative", "scale": {"type": "log", "domain": [0.5, 27], "nice": false}, "axis": {"values": [0.5,0.6,0.7,0.8,0.9,1,2,3,4,5,6,7,8,9,10,20], "labels": false, "tickSize": {"condition": {"test": "datum.value == 1 || datum.value == 10", "value": 3.5}, "value": 2}, "title": null}},
   "color": {"field": "p", "type": "nominal", "scale": {"domain": ["negative", "positive"], "range": ["#1f77b4", "#ff7f0e"]}, "legend": {"title": "polarity"}},
   "strokeDash": {"field": "q", "type": "nominal", "scale": {"domain": ["0.25", "0.5", "0.75"], "range": [[1, 0], [5.5, 2.4], [1.5, 2.5]]}, "legend": {"title": "quantile"}}
  }}
]
}
